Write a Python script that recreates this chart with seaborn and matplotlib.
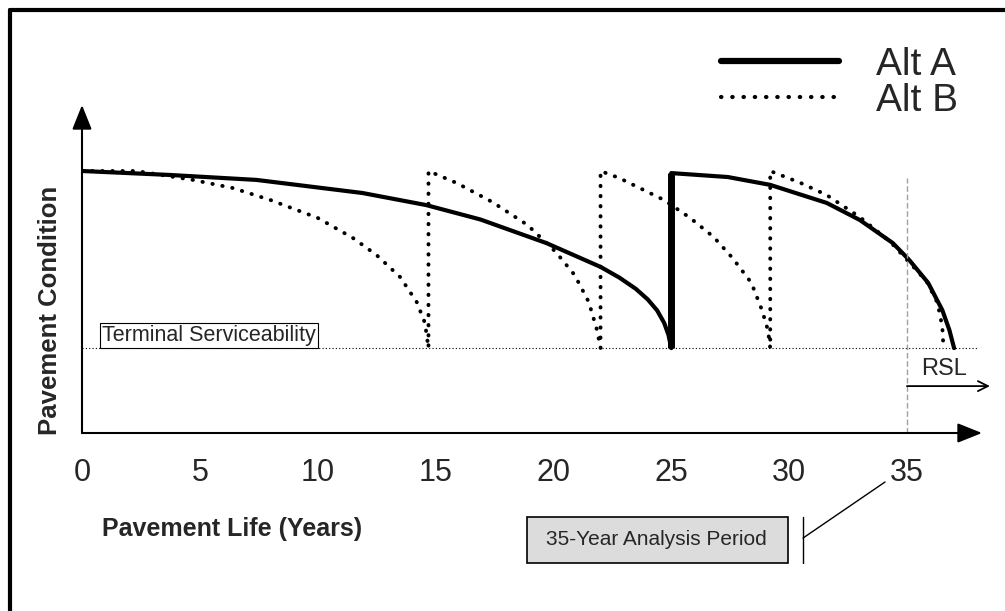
import numpy as np
import pandas as pd
import seaborn as sns
import matplotlib.pyplot as plt
from matplotlib.lines import Line2D
from matplotlib.patches import Rectangle

# Condition index (axis = 0, new pavement = 100)
terminal = 32.4
analysis_period = 35
tick_years = [0, 5, 10, 15, 20, 25, 30, 35]

# Alt A: one rehab at year 25
a1_year = [0, 3.7, 7.4, 11.9, 14.6, 16.9, 19.7, 22.0, 22.8, 23.5, 24.0, 24.4, 24.7, 24.88, 25.0]
a1_cond = [100, 98.5, 96.6, 91.6, 87.0, 81.5, 72.5, 63.4, 59.3, 55.0, 51.0, 46.8, 42.0, 37.5, 32.4]
a2_year = [25.0, 27.4, 29.2, 31.6, 33.0, 34.4, 35.1, 35.9, 36.5, 36.8, 37.0]
a2_cond = [99.2, 97.7, 94.7, 87.8, 81.3, 72.5, 66.0, 57.3, 46.9, 39.3, 32.4]

# Alt B: three cheaper treatments
b1_year = [0, 2.3, 4.7, 6.4, 8.0, 10.0, 11.5, 12.5, 13.5, 14.2, 14.55, 14.7]
b1_cond = [100, 100, 96.6, 93.5, 88.9, 82.1, 74.4, 67.9, 59.5, 50.0, 42.0, 32.4]
b2_year = [14.7, 15.9, 17.4, 18.9, 20.1, 20.9, 21.5, 21.85, 22.0]
b2_cond = [100, 95.4, 88.2, 79.4, 69.1, 60.3, 50.0, 39.3, 32.4]
b3_year = [22.0, 22.8, 24.0, 24.7, 25.8, 26.8, 27.6, 28.4, 28.85, 29.1, 29.2]
b3_cond = [100, 97.3, 92.0, 88.9, 82.1, 74.8, 66.8, 57.3, 46.9, 39.3, 32.4]
b4_year = [29.2, 30.5, 31.6, 33.0, 34.3, 35.4, 35.85, 36.3, 36.5, 36.55]
b4_cond = [100, 95.4, 90.8, 82.4, 72.9, 62.2, 57.6, 49.6, 40.5, 32.4]

df = pd.DataFrame({
    'year': a1_year + a2_year + b1_year + b2_year + b3_year + b4_year,
    'condition': a1_cond + a2_cond + b1_cond + b2_cond + b3_cond + b4_cond,
    'alt': ['Alt A'] * (len(a1_year) + len(a2_year))
           + ['Alt B'] * (len(b1_year) + len(b2_year) + len(b3_year) + len(b4_year)),
})

sns.set_style('white')
plt.rcParams['font.family'] = ['Liberation Sans', 'DejaVu Sans']

fig = plt.figure(figsize=(10.05, 6.11), dpi=100)
ax = fig.add_axes([82 / 1005, 178 / 611, 900 / 1005, 328 / 611])
xmax, ymax = 900 / 23.57, 328 / 2.62

sns.lineplot(data=df[df['alt'] == 'Alt A'], x='year', y='condition', sort=False,
             estimator=None, color='black', lw=3, ax=ax)
sns.lineplot(data=df[df['alt'] == 'Alt B'], x='year', y='condition', sort=False,
             estimator=None, color='black', lw=2.8, linestyle=(0, (0.1, 2.5)),
             dash_capstyle='round', ax=ax)
# the Alt A rehab jump is drawn heavier
ax.vlines(a1_year[-1], terminal, a2_cond[0], color='black', lw=5)

ax.set_xlim(0, xmax)
ax.set_ylim(0, ymax)
for s in ax.spines.values():
    s.set_visible(False)

# axis arrows
head = dict(arrowstyle='-|>,head_length=0.75,head_width=0.3', color='black',
            lw=1.5, mutation_scale=20, shrinkA=0, shrinkB=0)
ax.annotate('', xy=(xmax, 0), xytext=(0, 0), arrowprops=head, annotation_clip=False)
ax.annotate('', xy=(0, ymax), xytext=(0, 0), arrowprops=head, annotation_clip=False)

ax.set_xticks(tick_years)
ax.set_yticks([])
ax.tick_params(axis='x', length=0, pad=18, labelsize=22)

ax.set_xlabel('Pavement Life (Years)', fontsize=18, fontweight='bold', va='center')
ax.xaxis.set_label_coords(0.167, -0.293)
ax.set_ylabel('Pavement Condition', fontsize=18.5, fontweight='bold', va='center')
ax.yaxis.set_label_coords(-0.036, 0.375)

# terminal serviceability
ax.hlines(terminal, 0, 37.97, color='black', lw=0.8, linestyles=(0, (1, 2)))
ax.text(0.85, terminal + 0.8, 'Terminal Serviceability', fontsize=15.5, ha='left', va='bottom',
        bbox=dict(boxstyle='square,pad=0.08', fc='white', ec='black', lw=0.8))

# remaining service life
ax.vlines(analysis_period, 0, 97.3, color='#a0a0a0', lw=1, linestyles=(0, (4, 2)))
ax.annotate('', xy=(38.52, 17.9), xytext=(analysis_period, 17.9), annotation_clip=False,
            arrowprops=dict(arrowstyle='->', color='black', lw=1.3, mutation_scale=18,
                            shrinkA=0, shrinkB=0))
ax.text(36.57, 20.2, 'RSL', fontsize=17, ha='center', va='bottom')

# analysis period box
ax.add_patch(Rectangle((18.9, -49.6), 11.05, 17.5, fc='#dcdcdc', ec='black', lw=1.2,
                       clip_on=False))
ax.text(24.35, -40.8, '35-Year Analysis Period', fontsize=15, ha='center', va='center')
ax.plot([30.59, 30.59], [-32.1, -49.6], color='black', lw=1, clip_on=False)
ax.plot([30.59, 34.07], [-40.1, -18.7], color='black', lw=1, clip_on=False)

handles = [Line2D([], [], color='black', lw=4.5),
           Line2D([], [], color='black', lw=3, linestyle=(0, (0.1, 2.6)),
                  dash_capstyle='round')]
fig.legend(handles, ['Alt A', 'Alt B'], loc='center left', bbox_to_anchor=(0.717, 0.864),
           frameon=False, fontsize=28, handlelength=3.05, handletextpad=0.95,
           labelspacing=0.0, borderpad=0, borderaxespad=0)

# figure border (left and top)
fig.add_artist(Line2D([10 / 1005, 10 / 1005], [0, 1 - 10 / 611], color='black', lw=3))
fig.add_artist(Line2D([10 / 1005, 1], [1 - 10 / 611, 1 - 10 / 611], color='black', lw=3))

fig.savefig('out.png', dpi=100)
